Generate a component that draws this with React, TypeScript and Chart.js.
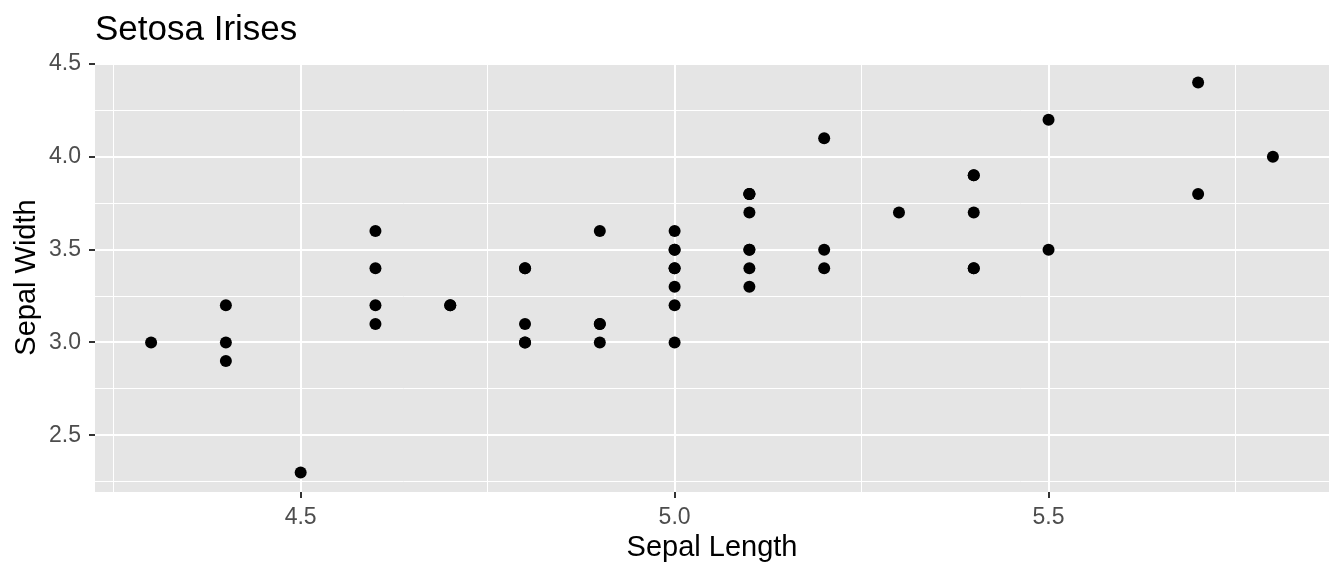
import React, { useEffect, useRef } from "react";
import { Chart, registerables } from "chart.js";

Chart.register(...registerables);

const sepalLength = [
  5.1, 4.9, 4.7, 4.6, 5.0, 5.4, 4.6, 5.0, 4.4, 4.9,
  5.4, 4.8, 4.8, 4.3, 5.8, 5.7, 5.4, 5.1, 5.7, 5.1,
  5.4, 5.1, 4.6, 5.1, 4.8, 5.0, 5.0, 5.2, 5.2, 4.7,
  4.8, 5.4, 5.2, 5.5, 4.9, 5.0, 5.5, 4.9, 4.4, 5.1,
  5.0, 4.5, 4.4, 5.0, 5.1, 4.8, 5.1, 4.6, 5.3, 5.0,
];
const sepalWidth = [
  3.5, 3.0, 3.2, 3.1, 3.6, 3.9, 3.4, 3.4, 2.9, 3.1,
  3.7, 3.4, 3.0, 3.0, 4.0, 4.4, 3.9, 3.5, 3.8, 3.8,
  3.4, 3.7, 3.6, 3.3, 3.4, 3.0, 3.4, 3.5, 3.4, 3.2,
  3.1, 3.4, 4.1, 4.2, 3.1, 3.2, 3.5, 3.6, 3.0, 3.4,
  3.5, 2.3, 3.2, 3.5, 3.8, 3.0, 3.8, 3.2, 3.7, 3.3,
];
const xTicks = [4.25, 4.5, 4.75, 5.0, 5.25, 5.5, 5.75];
const yTicks = [2.25, 2.5, 2.75, 3.0, 3.25, 3.5, 3.75, 4.0, 4.25, 4.5];
const title = "Setosa Irises";
const xTitle = "Sepal Length";
const yTitle = "Sepal Width";

const FONT = "'Liberation Sans', Arial, Helvetica, sans-serif";
const isMinor = (v: number) => Math.round(v * 4) % 2 === 1;

export default function App() {
  const ref = useRef<HTMLCanvasElement | null>(null);
  useEffect(() => {
    if (!ref.current) return;
    const bgPlugin = {
      id: "panelBg",
      beforeDraw(chart: any) {
        const { ctx, chartArea: a } = chart;
        ctx.save();
        ctx.fillStyle = "#E5E5E5";
        ctx.fillRect(a.left, a.top, a.right - a.left, a.bottom - a.top);
        ctx.restore();
      },
      afterDraw(chart: any) {
        const { ctx, chartArea: a } = chart;
        ctx.save();
        ctx.fillStyle = "#000000";
        ctx.textBaseline = "alphabetic";
        ctx.font = `35px ${FONT}`;
        ctx.textAlign = "left";
        ctx.fillText(title, a.left, 40);
        ctx.font = `29px ${FONT}`;
        ctx.textAlign = "center";
        ctx.fillText(xTitle, (a.left + a.right) / 2, 556);
        ctx.translate(35, (a.top + a.bottom) / 2);
        ctx.rotate(-Math.PI / 2);
        ctx.fillText(yTitle, 0, 0);
        ctx.restore();
      },
    };
    const chart = new Chart(ref.current, {
      type: "scatter",
      data: {
        datasets: [
          {
            data: sepalLength.map((x, i) => ({ x, y: sepalWidth[i] })),
            backgroundColor: "#000000",
            borderWidth: 0,
            pointRadius: 6,
            pointHoverRadius: 6,
          },
        ],
      },
      options: {
        animation: false,
        responsive: false,
        events: [],
        layout: { padding: { left: 0, top: 63, right: 15, bottom: 0 } },
        plugins: { legend: { display: false }, tooltip: { enabled: false }, title: { display: false } },
        scales: {
          x: {
            type: "linear",
            min: 4.225,
            max: 5.875,
            afterBuildTicks(scale: any) {
              scale.ticks = xTicks.map((v) => ({ value: v }));
            },
            afterFit(scale: any) {
              scale.height = 84;
            },
            border: { display: false },
            grid: {
              color: (c: any) => "#FFFFFF",
              lineWidth: (c: any) => (c.tick && isMinor(c.tick.value) ? 1 : 2),
              tickColor: (c: any) => (c.tick && isMinor(c.tick.value) ? "rgba(0,0,0,0)" : "#333333"),
              tickWidth: 2,
              tickLength: 6,
            },
            ticks: {
              autoSkip: false,
              maxRotation: 0,
              padding: 6,
              color: "#4D4D4D",
              font: { family: FONT, size: 23 },
              callback: (v: any) => (isMinor(Number(v)) ? "" : Number(v).toFixed(1)),
            },
          },
          y: {
            type: "linear",
            min: 2.195,
            max: 4.505,
            afterBuildTicks(scale: any) {
              scale.ticks = yTicks.map((v) => ({ value: v }));
            },
            afterFit(scale: any) {
              scale.width = 95;
            },
            border: { display: false },
            grid: {
              color: (c: any) => "#FFFFFF",
              lineWidth: (c: any) => (c.tick && isMinor(c.tick.value) ? 1 : 2),
              tickColor: (c: any) => (c.tick && isMinor(c.tick.value) ? "rgba(0,0,0,0)" : "#333333"),
              tickWidth: 2,
              tickLength: 6,
            },
            ticks: {
              autoSkip: false,
              padding: 8,
              color: "#4D4D4D",
              font: { family: FONT, size: 23 },
              callback: (v: any) => (isMinor(Number(v)) ? "" : Number(v).toFixed(1)),
            },
          },
        },
      },
      plugins: [bgPlugin],
    } as any);
    return () => chart.destroy();
  }, []);
  return (
    <div style={{ position: "absolute", left: 0, top: 0, width: 1344, height: 576, background: "#FFFFFF" }}>
      <canvas ref={ref} width={1344} height={576} style={{ display: "block", width: 1344, height: 576 }} />
    </div>
  );
}
